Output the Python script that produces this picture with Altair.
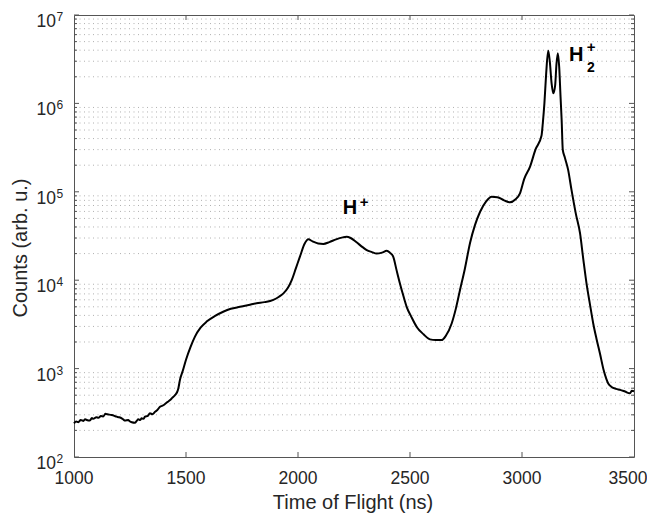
import altair as alt
import pandas as pd

# ---- data ----
tof_ns = [1000, 1010, 1019, 1030, 1042, 1050, 1057, 1071, 1080, 1086, 1100, 1109, 1120, 1131,
          1140, 1150, 1168, 1180, 1190, 1200, 1213, 1220, 1228, 1242, 1250, 1258, 1272, 1280,
          1287, 1295, 1302, 1310, 1317, 1330, 1339, 1350, 1362, 1372, 1384, 1395, 1406, 1418,
          1429, 1440, 1451, 1460, 1466, 1473, 1486, 1500, 1520, 1540, 1565, 1592, 1630, 1666,
          1700, 1741, 1780, 1815, 1850, 1890, 1915, 1935, 1955, 1972, 1990, 2009, 2030, 2046,
          2065, 2090, 2113, 2140, 2170, 2200, 2217, 2235, 2260, 2290, 2307, 2330, 2351, 2375,
          2396, 2410, 2425, 2440, 2455, 2470, 2485, 2505, 2530, 2560, 2589, 2615, 2641, 2660,
          2686, 2705, 2723, 2745, 2768, 2790, 2813, 2840, 2865, 2890, 2920, 2946, 2970, 2991,
          3010, 3036, 3060, 3087, 3093, 3100, 3108, 3117, 3124, 3132, 3140, 3148, 3154, 3160,
          3166, 3172, 3177, 3182, 3190, 3206, 3221, 3240, 3259, 3274, 3288, 3303, 3318, 3333,
          3348, 3365, 3385, 3400, 3420, 3438, 3460, 3482, 3490, 3500]
counts = [240, 252, 248, 262, 256, 268, 262, 258, 276, 270, 282, 278, 290, 288,
          308, 304, 298, 292, 286, 282, 274, 266, 258, 262, 252, 247, 244, 256,
          267, 262, 274, 270, 286, 292, 312, 305, 325, 340, 370, 380, 397, 420,
          441, 470, 500, 540, 600, 745, 950, 1260, 1750, 2300, 2900, 3400, 3950, 4400,
          4750, 5000, 5250, 5500, 5650, 6000, 6500, 7100, 8200, 10000, 13500, 18600, 26000, 29000,
          27500, 26000, 25700, 27000, 29000, 30500, 31000, 30000, 27000, 23500, 21900, 20800, 20000, 20500,
          21500, 20500, 18500, 13000, 9200, 6700, 5000, 3900, 2960, 2450, 2140, 2100, 2100, 2350,
          3240, 4800, 7700, 13500, 26400, 42000, 59500, 78000, 88000, 87000, 80000, 76000, 82000, 96000,
          140000, 193000, 300000, 430000, 600000, 1000000, 2200000, 3950000, 3000000, 1700000, 1300000, 1600000, 2800000, 3700000,
          2600000, 1200000, 650000, 300000, 250000, 177000, 105000, 57000, 34000, 17000, 9200, 5400, 3240, 2150,
          1480, 950, 680, 620, 590, 575, 550, 525, 560, 555]

x_ticks = [1000, 1500, 2000, 2500, 3000, 3500]
x_tick_labels = ["1000", "1500", "2000", "2500", "3000", "3500"]
x_inner_ticks = [1500, 2000, 2500, 3000]
y_exponents = [2, 3, 4, 5, 6, 7]
minor_mult = [2, 3, 4, 5, 6, 7, 8, 9]
x_title = "Time of Flight (ns)"
y_title = "Counts (arb. u.)"

ann_text = ["H", "+", "H", "+", "2"]
ann_x = [2232, 2295, 3242, 3309, 3307]
ann_y = [55600, 67900, 3.04e6, 3.85e6, 2.29e6]
ann_size = [20, 15, 20, 15, 14]

# ---- layout ----
W, H = 560, 442
FONT = "Liberation Sans"
TXT = "#262626"
TICK = "#555555"

df = pd.DataFrame({"tof": tof_ns, "counts": counts})
major_y = pd.DataFrame({"v": [10.0 ** e for e in y_exponents], "exp": [str(e) for e in y_exponents]})
minor_y = pd.DataFrame({"v": [m * 10.0 ** e for e in y_exponents[:-1] for m in minor_mult]})
xt = pd.DataFrame({"v": x_inner_ticks})
xl = pd.DataFrame({"v": x_ticks[:-1], "lab": x_tick_labels[:-1]})
xl_last = pd.DataFrame({"v": x_ticks[-1:], "lab": x_tick_labels[-1:]})
ann = pd.DataFrame({"x": ann_x, "y": ann_y, "t": ann_text, "s": ann_size})
titles = pd.DataFrame({"t": [x_title]})
ytitles = pd.DataFrame({"t": [y_title]})

xs = alt.Scale(domain=[1000, 3500], nice=False, zero=False)
ys = alt.Scale(type="log", domain=[1e2, 1e7], nice=False)

minor_grid = alt.Chart(minor_y).mark_rule(color="#b0b0b0", strokeWidth=1, strokeDash=[1, 3.5]).encode(
    y=alt.Y("v:Q", scale=ys, axis=None))

ytick_major_l = alt.Chart(major_y).mark_rule(color=TICK).encode(
    y=alt.Y("v:Q", scale=ys, axis=None), x=alt.value(0), x2=alt.value(5))
ytick_major_r = alt.Chart(major_y).mark_rule(color=TICK).encode(
    y=alt.Y("v:Q", scale=ys, axis=None), x=alt.value(W - 5), x2=alt.value(W))
ytick_minor_l = alt.Chart(minor_y).mark_rule(color=TICK).encode(
    y=alt.Y("v:Q", scale=ys, axis=None), x=alt.value(0), x2=alt.value(3))
ytick_minor_r = alt.Chart(minor_y).mark_rule(color=TICK).encode(
    y=alt.Y("v:Q", scale=ys, axis=None), x=alt.value(W - 3), x2=alt.value(W))
xtick_b = alt.Chart(xt).mark_rule(color=TICK).encode(
    x=alt.X("v:Q", scale=xs, axis=None), y=alt.value(H - 5), y2=alt.value(H))
xtick_t = alt.Chart(xt).mark_rule(color=TICK).encode(
    x=alt.X("v:Q", scale=xs, axis=None), y=alt.value(0), y2=alt.value(5))

line = alt.Chart(df).mark_line(color="black", strokeWidth=2, interpolate="monotone").encode(
    x=alt.X("tof:Q", scale=xs, axis=alt.Axis(
        values=x_ticks, grid=True, gridColor="#e1e1e1", ticks=False, domain=False,
        labels=False, title=None)),
    y=alt.Y("counts:Q", scale=ys, axis=alt.Axis(
        values=[10.0 ** e for e in y_exponents], grid=True, gridColor="#e1e1e1", ticks=False,
        domain=False, labels=False, title=None)),
)

ylab_base = alt.Chart(major_y).mark_text(align="right", baseline="alphabetic", dy=12,
                                         font=FONT, fontSize=17.5, color=TXT).encode(
    y=alt.Y("v:Q", scale=ys, axis=None), x=alt.value(-18), text=alt.value("10"))
ylab_exp = alt.Chart(major_y).mark_text(align="left", baseline="alphabetic", dy=6,
                                        font=FONT, fontSize=12, color=TXT).encode(
    y=alt.Y("v:Q", scale=ys, axis=None), x=alt.value(-17.5), text="exp:N")
xlab = alt.Chart(xl).mark_text(align="center", baseline="alphabetic", font=FONT,
                               fontSize=17.5, color=TXT).encode(
    x=alt.X("v:Q", scale=xs, axis=None), y=alt.value(H + 27), text="lab:N")
xlab_last = alt.Chart(xl_last).mark_text(align="center", baseline="alphabetic", font=FONT,
                                         fontSize=17.5, color=TXT, dx=-6).encode(
    x=alt.X("v:Q", scale=xs, axis=None), y=alt.value(H + 27), text="lab:N")
xtitle = alt.Chart(titles).mark_text(align="center", baseline="alphabetic", font=FONT,
                                     fontSize=20, color=TXT).encode(
    x=alt.value(W / 2 - 1), y=alt.value(H + 52), text="t:N")
ytitle = alt.Chart(ytitles).mark_text(align="center", baseline="alphabetic", font=FONT,
                                      fontSize=20, color=TXT, angle=270).encode(
    x=alt.value(-47), y=alt.value(233), text="t:N")

labels = alt.Chart(ann).mark_text(align="center", baseline="alphabetic", font=FONT,
                                  fontWeight="bold", color="black").encode(
    x=alt.X("x:Q", scale=xs, axis=None), y=alt.Y("y:Q", scale=ys, axis=None),
    text="t:N", size=alt.Size("s:Q", scale=None, legend=None))

chart = alt.layer(
    minor_grid, ytick_major_l, ytick_major_r, ytick_minor_l, ytick_minor_r, xtick_b, xtick_t,
    line, ylab_base, ylab_exp, xlab, xlab_last, xtitle, ytitle, labels
).properties(
    width=W, height=H,
    autosize=alt.AutoSizeParams(type="none"),
    padding={"left": 66, "top": 7, "right": 13, "bottom": 60},
    background="white",
).configure_view(stroke=TICK, strokeWidth=1)

chart.save("out.html", embed_options={"renderer": "svg", "actions": False})
